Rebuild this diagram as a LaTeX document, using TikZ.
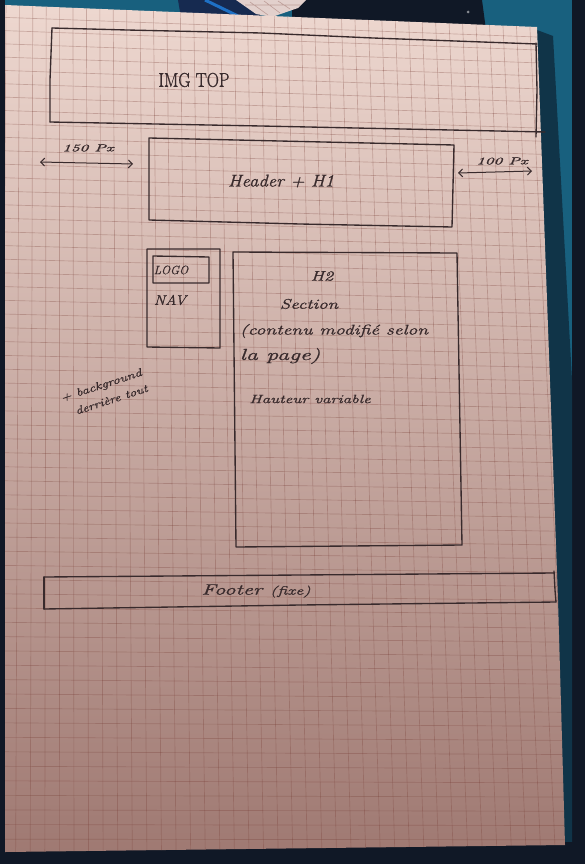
\documentclass[tikz,border=0pt]{standalone}
\usepackage{fontspec}
\usepackage{graphicx}
\usetikzlibrary{arrows.meta}

% slightly emboldened italic, closer to a felt-pen stroke
\newfontfamily\handfont{Latin Modern Roman}[FakeBold=1.0]

\definecolor{ink}{RGB}{56,42,44}
\definecolor{teal}{RGB}{24,96,126}
\definecolor{darkteal}{RGB}{16,52,72}
\definecolor{navy}{RGB}{16,24,38}
\definecolor{deepblue}{RGB}{22,42,80}
\definecolor{brightblue}{RGB}{30,112,196}
\definecolor{paperTop}{RGB}{238,216,208}
\definecolor{paperMid}{RGB}{214,189,181}
\definecolor{paperBot}{RGB}{158,120,113}
\definecolor{gridcol}{RGB}{120,62,54}
\definecolor{foldpaper}{RGB}{226,208,204}

% horizontally stretched handwriting
\newcommand\hw[2]{\scalebox{#1}[1]{#2}}
\newcommand\fs[1]{\fontsize{#1}{#1}\selectfont}

\begin{document}
\begin{tikzpicture}[x=1pt,y=-1pt,
  pen/.style={draw=ink, line width=1.35pt, line cap=round, line join=round},
  hand/.style={text=ink, inner sep=0pt, font=\handfont\itshape},
  gridline/.style={draw=gridcol, draw opacity=0.3, line width=0.65pt},
  dimline/.style={pen, line width=1pt,
    {Straight Barb[length=4pt,width=8pt]}-{Straight Barb[length=4pt,width=8pt]}}]
\useasboundingbox (0,0) rectangle (585,864);

% ---------- background behind the sheet ----------
\fill[teal] (0,0) rectangle (585,864);
\fill[navy] (0,0) rectangle (5,864);
\fill[navy] (572,0) rectangle (585,864);
\fill[darkteal] (537,30) -- (553,36) -- (572,380) -- (572,864) -- (540,864) -- cycle;
\fill[navy] (0,848) -- (566,842) -- (585,842) -- (585,864) -- (0,864) -- cycle;
\fill[navy] (292,0) -- (482,0) -- (486,30) -- (292,30) -- cycle;
\fill[deepblue] (178,0) -- (240,0) -- (262,14) -- (250,24) -- (182,24) -- cycle;
\draw[brightblue, line width=3pt] (205,0) -- (238,16);
\fill[foldpaper] (236,0) -- (306,0) -- (298,8) -- (272,17) -- (256,14) -- cycle;
\draw[gridcol, opacity=0.35, line width=0.6pt]
  (250,2) -- (268,15) (264,1) -- (280,13) (278,1) -- (290,9) (245,5) -- (300,5);
\fill[white, opacity=0.5] (468,12) circle (1.5);

% ---------- the sheet of squared paper ----------
\coordinate (p-tl) at (5,5);
\coordinate (p-tr) at (537,27);
\coordinate (p-r1) at (547,300);
\coordinate (p-r2) at (558,600);
\coordinate (p-br) at (565,845);
\coordinate (p-bl) at (5,852);
\begin{scope}
  \clip (p-tl) -- (p-tr) -- (p-r1) -- (p-r2) -- (p-br) -- (p-bl) -- cycle;
  \shade[top color=paperTop, middle color=paperMid, bottom color=paperBot]
    (0,0) rectangle (585,864);
  \foreach \i in {0,...,42} {
    \draw[gridline] ({6+13.4*\i},0) -- ({1+14.6*\i},864);
  }
  \foreach \j in {0,...,62} {
    \pgfmathsetmacro\yy{4+13.2*\j+0.012*\j*\j}
    \pgfmathsetmacro\yt{\yy+22*(1-\yy/864)}
    \draw[gridline] (0,\yy) -- (585,\yt);
  }
\end{scope}

% ---------- IMG TOP ----------
\coordinate (img-tl) at (52,28);
\coordinate (img-tr) at (537,44);
\coordinate (img-br) at (536,137);
\coordinate (img-bl) at (50,122);
\draw[pen] (img-tl) -- (127,30) -- (261,33) -- (373,38) -- (img-tr);
\draw[pen] (img-tl) -- (50,80) -- (img-bl);
\draw[pen] (img-bl) -- (261,126) -- (545,132);
\draw[pen] (536,43) -- (537,90) -- (img-br);
\node[hand, font=\handfont\fs{20}] (imgtop) at (194,80) {\hw{0.84}{IMG TOP}};

% ---------- Header ----------
\coordinate (hd-tl) at (149,138);
\coordinate (hd-tr) at (454,145);
\coordinate (hd-br) at (452,227);
\coordinate (hd-bl) at (149,220);
\draw[pen] (hd-tl) -- (hd-tr) -- (hd-br) -- (300,224) -- (hd-bl) -- cycle;
\node[hand, font=\handfont\itshape\fs{17}] (header) at (281,181) {\hw{1.1}{Header + H1}};

% ---------- margins ----------
\coordinate (ml-a) at (40,162);
\coordinate (ml-b) at (133,164);
\draw[dimline] (ml-a) -- (ml-b);
\node[hand, font=\handfont\itshape\fs{10}] (ml-txt) at (88,148) {\hw{1.7}{150 Px}};
\coordinate (mr-a) at (458,173);
\coordinate (mr-b) at (532,171);
\draw[dimline] (mr-a) -- (mr-b);
\node[hand, font=\handfont\itshape\fs{10}] (mr-txt) at (502,161) {\hw{1.7}{100 Px}};

% ---------- Nav column ----------
\coordinate (nv-tl) at (147,249);
\coordinate (nv-tr) at (220,249);
\coordinate (nv-br) at (220,348);
\coordinate (nv-bl) at (147,347);
\draw[pen] (nv-tl) -- (nv-tr) -- (nv-br) -- (nv-bl) -- cycle;
\coordinate (lg-tl) at (153,256);
\coordinate (lg-tr) at (209,257);
\coordinate (lg-br) at (209,283);
\coordinate (lg-bl) at (153,283);
\draw[pen] (lg-tl) -- (lg-tr) -- (lg-br) -- (lg-bl) -- cycle;
\node[hand, font=\handfont\itshape\fs{12}] (logo) at (171,270) {\hw{1.0}{LOGO}};
\node[hand, font=\handfont\itshape\fs{14}] (nav) at (170,300) {\hw{1.1}{NAV}};

% ---------- Section ----------
\coordinate (sc-tl) at (233,252);
\coordinate (sc-tr) at (457,253);
\coordinate (sc-br) at (462,545);
\coordinate (sc-bl) at (236,547);
\draw[pen] (sc-tl) -- (sc-tr) -- (sc-br) -- (sc-bl) -- cycle;
\node[hand, font=\handfont\itshape\fs{14}] (h2) at (322,276) {\hw{1.3}{H2}};
\node[hand, font=\handfont\itshape\fs{14}] (section) at (309,304) {\hw{1.35}{Section}};
\node[hand, font=\handfont\itshape\fs{14}] (contenu) at (334,331) {\hw{1.4}{(contenu modifié selon}};
\node[hand, font=\handfont\itshape\fs{16}] (lapage) at (280,356) {\hw{1.5}{la page)}};
\node[hand, font=\handfont\itshape\fs{12}] (hauteur) at (310,399) {\hw{1.42}{Hauteur variable}};

% ---------- background note ----------
\node[hand, font=\handfont\itshape\fs{11}, rotate=18, align=left, anchor=center]
  (bgnote) at (104,393)
  {\hw{1.3}{+ background}\\[6pt]\hspace{10pt}\hw{1.25}{derrière tout}};

% ---------- Footer ----------
\coordinate (ft-tl) at (44,577);
\coordinate (ft-tr) at (554,573);
\coordinate (ft-br) at (556,602);
\coordinate (ft-bl) at (44,609);
\draw[pen] (ft-tl) -- (300,575) -- (ft-tr);
\draw[pen] (ft-bl) -- (300,605) -- (ft-br);
\draw[pen] (ft-tl) -- (ft-bl);
\draw[pen] (554,571) -- (555,590) -- (ft-br);
\node[hand, font=\handfont\itshape\fs{15}] (footer) at (256,591) {\hw{1.5}{Footer {\fs{12}(fixe)}}};
\end{tikzpicture}
\end{document}
